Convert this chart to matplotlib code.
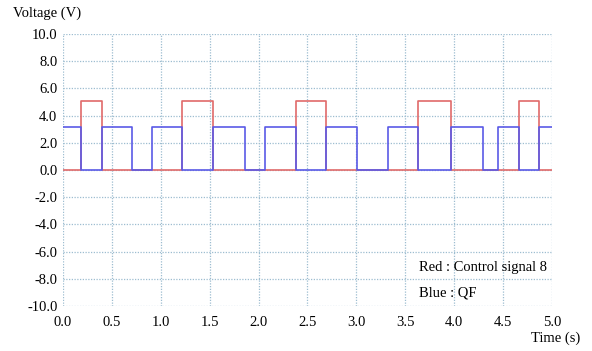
import numpy as np
import matplotlib
matplotlib.use("Agg")
from matplotlib import pyplot as plt

# transition times (s) and levels after each transition
red_t = [0.0, 0.18, 0.40, 1.22, 1.53, 2.38, 2.69, 3.63, 3.97, 4.66, 4.87, 5.0]
red_v = [0.0, 5.05, 0.0, 5.05, 0.0, 5.05, 0.0, 5.05, 0.0, 5.05, 0.0, 0.0]

blue_t = [0.0, 0.18, 0.40, 0.71, 0.91, 1.22, 1.53, 1.86, 2.07, 2.38,
          2.69, 3.01, 3.32, 3.63, 3.97, 4.29, 4.45, 4.66, 4.87, 5.0]
blue_v = [3.15, 0.0, 3.15, 0.0, 3.15, 0.0, 3.15, 0.0, 3.15, 0.0,
          3.15, 0.0, 3.15, 0.0, 3.15, 0.0, 3.15, 0.0, 3.15, 3.15]

x_ticks = [0.0, 0.5, 1.0, 1.5, 2.0, 2.5, 3.0, 3.5, 4.0, 4.5, 5.0]
y_ticks = [10.0, 8.0, 6.0, 4.0, 2.0, 0.0, -2.0, -4.0, -6.0, -8.0, -10.0]

plt.rcParams['font.family'] = ['Liberation Serif', 'DejaVu Serif']

fig = plt.figure(figsize=(5.92, 3.51), dpi=100)
ax = fig.add_axes([0.1064, 0.1282, 0.826, 0.7749])

ax.plot(red_t, red_v, drawstyle='steps-post', color='#e06a6a', lw=1.2)
ax.plot(blue_t, blue_v, drawstyle='steps-post', color='#5a5ae6', lw=1.2)

ax.set_xlim(0, 5)
ax.set_ylim(-10, 10)
ax.set_xticks(x_ticks)
ax.set_yticks(y_ticks)
ax.set_xticklabels(["%.1f" % v for v in x_ticks], fontsize=10.5)
ax.set_yticklabels(["%.1f" % v for v in y_ticks], fontsize=10.5)
ax.tick_params(length=0, pad=4)
ax.tick_params(axis='x', pad=7)
ax.grid(True, color='#9dbdd0', linestyle=(0, (1, 1.2)), lw=0.9)
ax.set_axisbelow(True)
for s in ax.spines.values():
    s.set_visible(False)

fig.text(13 / 592, 1 - 13 / 351, "Voltage (V)", fontsize=10.5, va='center', ha='left')
fig.text(580 / 592, 1 - 338 / 351, "Time (s)", fontsize=10.5, va='center', ha='right')
ax.text(3.64, -7.2, "Red : Control signal 8", fontsize=10.5, va='center', ha='left')
ax.text(3.64, -9.05, "Blue : QF", fontsize=10.5, va='center', ha='left')

fig.savefig("out.png", dpi=100)
